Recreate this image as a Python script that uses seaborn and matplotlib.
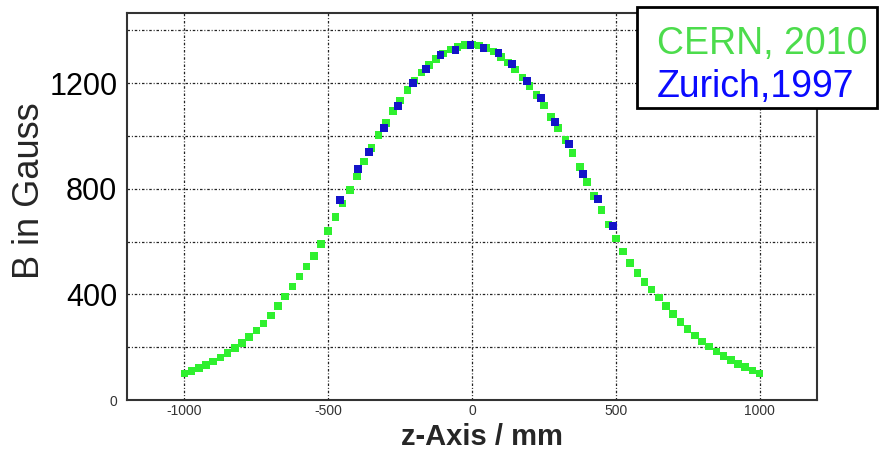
import matplotlib
matplotlib.use('Agg')
import matplotlib.pyplot as plt
from matplotlib import font_manager
from matplotlib.patches import Rectangle
from matplotlib.ticker import MultipleLocator, FixedLocator
import pandas as pd
import seaborn as sns

# CERN 2010 measurement, z in mm, B in Gauss
cern_z = [-1000, -975, -950, -925, -900, -875, -850, -825, -800, -775,
          -750, -725, -700, -675, -650, -625, -600, -575, -550, -525,
          -500, -475, -450, -425, -400, -375, -350, -325, -300, -275,
          -250, -225, -200, -175, -150, -125, -100, -75, -50, -25,
          0, 25, 50, 75, 100, 125, 150, 175, 200, 225,
          250, 275, 300, 325, 350, 375, 400, 425, 450, 475,
          500, 525, 550, 575, 600, 625, 650, 675, 700, 725,
          750, 775, 800, 825, 850, 875, 900, 925, 950, 975, 1000]
cern_b = [100, 110, 121, 133, 146, 161, 178, 197, 217, 239,
          263, 290, 320, 355, 392, 430, 468, 505, 545, 592,
          640, 693, 745, 795, 847, 903, 955, 1005, 1050, 1095,
          1135, 1175, 1210, 1240, 1268, 1292, 1312, 1328, 1338, 1345,
          1347, 1343, 1334, 1320, 1300, 1278, 1252, 1222, 1190, 1155,
          1115, 1073, 1030, 985, 935, 883, 825, 772, 720, 665,
          612, 563, 520, 482, 448, 418, 388, 356, 325, 296,
          270, 245, 222, 202, 184, 167, 151, 137, 124, 112, 101]

# Zurich 1997 measurement
zurich_z = [-460, -397, -359, -307, -258, -206, -161, -109, -57, -5,
            40, 92, 140, 192, 241, 289, 338, 386, 438, 490]
zurich_b = [758, 875, 939, 1030, 1114, 1201, 1254, 1307, 1326, 1345,
            1333, 1314, 1273, 1208, 1144, 1053, 970, 856, 761, 659]

y_ticks = [0, 200, 400, 600, 800, 1000, 1200, 1400]
y_labels = ['0', '', '400', '', '800', '', '1200', '']
x_ticks = [-1000, -500, 0, 500, 1000]
x_labels = ['-1000', '-500', '0', '500', '1000']

sns.set_style('white')
plt.rcParams['font.family'] = ['Liberation Sans', 'DejaVu Sans']

# narrow face for the x axis title, if one is installed
installed = {f.name for f in font_manager.fontManager.ttflist}
narrow = 'Liberation Sans'
narrow_size = 21
for name in ['Liberation Sans Narrow', 'DejaVu Sans Condensed']:
    if name in installed:
        narrow = name
        narrow_size = 23
        break

fig = plt.figure(figsize=(8.81, 4.54), dpi=100)
ax = fig.add_axes([127 / 881, 1 - 400 / 454, 690 / 881, 387 / 454])

cern = pd.DataFrame({'z': cern_z, 'B': cern_b})
zurich = pd.DataFrame({'z': zurich_z, 'B': zurich_b})
sns.scatterplot(data=cern, x='z', y='B', ax=ax, marker='s', s=30,
                color='#2ff02f', edgecolor='none', zorder=3)
sns.scatterplot(data=zurich, x='z', y='B', ax=ax, marker='s', s=30,
                color='#1414c8', edgecolor='none', zorder=4)

ax.set_xlim(-1200, 1200)
ax.set_ylim(0, 1466)

ax.xaxis.set_major_locator(FixedLocator(x_ticks))
ax.xaxis.set_minor_locator(MultipleLocator(100))
ax.set_xticklabels(x_labels, fontsize=10, color='#333333')
ax.yaxis.set_major_locator(FixedLocator(y_ticks))
ax.yaxis.set_minor_locator(MultipleLocator(50))
ax.set_yticklabels(y_labels)
for lab in ax.get_yticklabels():
    if lab.get_text() == '0':
        lab.set_fontsize(10)
        lab.set_color('#333333')
    else:
        lab.set_fontsize(22)
        lab.set_color('black')

ax.tick_params(axis='both', which='both', direction='in', top=False, right=False,
               color='#222222', width=1.2)
ax.tick_params(axis='y', which='major', length=11, pad=7)
ax.tick_params(axis='y', which='minor', length=6)
ax.tick_params(axis='x', which='major', length=10, pad=3)
ax.tick_params(axis='x', which='minor', length=5)

ax.grid(True, which='major', color='#222222', linestyle=(0, (2, 1.5, 0.8, 1.5)),
        linewidth=0.9)
ax.set_axisbelow(True)
for sp in ax.spines.values():
    sp.set_color('#333333')
    sp.set_linewidth(1.5)

ax.set_ylabel('B in Gauss', fontsize=26)
ax.yaxis.set_label_coords(-0.141, 0.54)
ax.yaxis.label.set_va('center')
ax.set_xlabel('z-Axis / mm', fontsize=narrow_size, family=narrow, weight='bold')
ax.xaxis.set_label_coords(0.514, -0.096)
ax.xaxis.label.set_va('center')

# legend box, drawn in figure coordinates
fig.patches.append(Rectangle((637 / 881, 1 - 108 / 454), 240 / 881, 101 / 454,
                             transform=fig.transFigure, facecolor='white',
                             edgecolor='black', linewidth=2, zorder=10))
fig.text(657 / 881, 1 - 54 / 454, 'CERN, 2010', fontsize=27, color='#4cdc4c',
         va='baseline', zorder=11)
fig.text(657 / 881, 1 - 97 / 454, 'Zurich,1997', fontsize=27, color='#0a0aff',
         va='baseline', zorder=11)

fig.savefig('out.png', dpi=100)
